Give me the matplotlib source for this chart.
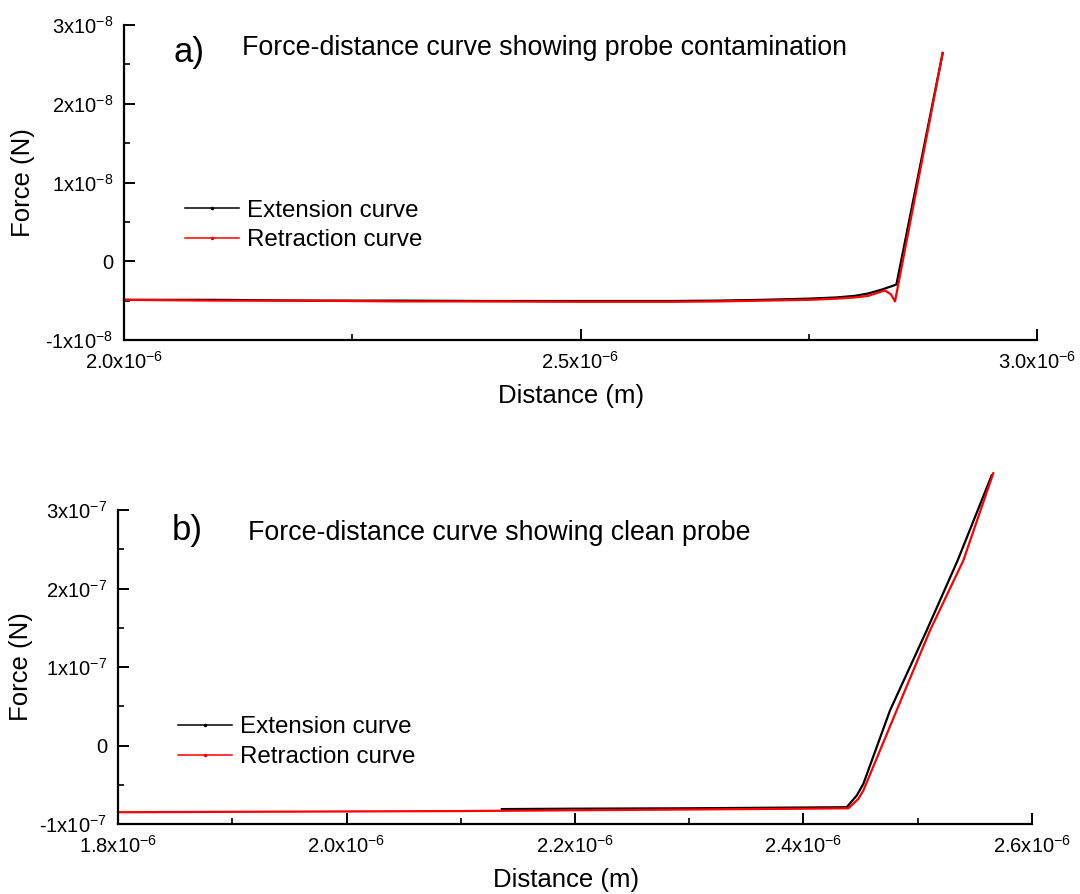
import numpy as np
import matplotlib
matplotlib.use('Agg')
import matplotlib.pyplot as plt
from matplotlib.ticker import MultipleLocator

plt.rcParams['font.family'] = ['Liberation Sans', 'DejaVu Sans']
plt.rcParams['mathtext.fontset'] = 'custom'
plt.rcParams['mathtext.rm'] = 'Liberation Sans'
plt.rcParams['mathtext.default'] = 'regular'

# ---- panel a) probe contamination (x in m, F in N) ----
a_ext_x = np.array([2.000, 2.100, 2.200, 2.300, 2.400, 2.500, 2.600, 2.650, 2.700, 2.750,
                    2.780, 2.800, 2.815, 2.830, 2.840, 2.846, 2.8967]) * 1e-6
a_ext_f = np.array([-0.49, -0.49, -0.50, -0.50, -0.505, -0.505, -0.505, -0.50, -0.49, -0.475,
                    -0.46, -0.44, -0.41, -0.36, -0.32, -0.296, 2.645]) * 1e-8
a_ret_x = np.array([2.000, 2.100, 2.200, 2.300, 2.400, 2.500, 2.600, 2.650, 2.700, 2.750,
                    2.780, 2.800, 2.815, 2.8335, 2.840, 2.8445, 2.8967]) * 1e-6
a_ret_f = np.array([-0.49, -0.50, -0.50, -0.51, -0.51, -0.515, -0.515, -0.51, -0.50, -0.49,
                    -0.475, -0.46, -0.44, -0.37, -0.42, -0.51, 2.645]) * 1e-8

# ---- panel b) clean probe ----
b_ext_x = np.array([2.136, 2.200, 2.300, 2.400, 2.4378, 2.4466, 2.4524, 2.4757, 2.5078,
                    2.5349, 2.5647]) * 1e-6
b_ext_f = np.array([-0.81, -0.805, -0.80, -0.79, -0.786, -0.637, -0.488, 0.446, 1.465,
                    2.357, 3.44]) * 1e-7
b_ret_x = np.array([1.80, 1.90, 2.00, 2.10, 2.20, 2.30, 2.40, 2.4393, 2.448, 2.4524,
                    2.4815, 2.5107, 2.5399, 2.5661]) * 1e-6
b_ret_f = np.array([-0.85, -0.845, -0.84, -0.835, -0.825, -0.815, -0.805, -0.80, -0.68,
                    -0.573, 0.446, 1.465, 2.357, 3.469]) * 1e-7

a_xticks = [2.0e-6, 2.5e-6, 3.0e-6]
a_xlabels = ['2.0x10$^{-6}$', '2.5x10$^{-6}$', '3.0x10$^{-6}$']
a_yticks = [-1e-8, 0, 1e-8, 2e-8, 3e-8]
a_ylabels = ['-1x10$^{-8}$', '0', '1x10$^{-8}$', '2x10$^{-8}$', '3x10$^{-8}$']

b_xticks = [1.8e-6, 2.0e-6, 2.2e-6, 2.4e-6, 2.6e-6]
b_xlabels = ['1.8x10$^{-6}$', '2.0x10$^{-6}$', '2.2x10$^{-6}$', '2.4x10$^{-6}$', '2.6x10$^{-6}$']
b_yticks = [-1e-7, 0, 1e-7, 2e-7, 3e-7]
b_ylabels = ['-1x10$^{-7}$', '0', '1x10$^{-7}$', '2x10$^{-7}$', '3x10$^{-7}$']

fig = plt.figure(figsize=(10.8, 8.94), dpi=100)
ax1 = fig.add_axes([124/1080, 1-340/894, 913/1080, 315/894])
ax2 = fig.add_axes([118/1080, 1-824/894, 914/1080, 314/894])


def style(ax, xticks, xlabels, yticks, ylabels, xminor, yminor):
    ax.set_xlim(xticks[0], xticks[-1])
    ax.set_ylim(yticks[0], yticks[-1])
    ax.set_xticks(xticks, xlabels)
    ax.set_yticks(yticks, ylabels)
    ax.xaxis.set_minor_locator(MultipleLocator(xminor))
    ax.yaxis.set_minor_locator(MultipleLocator(yminor))
    for s in ['top', 'right']:
        ax.spines[s].set_visible(False)
    for s in ['left', 'bottom']:
        ax.spines[s].set_linewidth(1.6)
    ax.tick_params(which='major', direction='in', length=8, width=1.4, labelsize=14.5, pad=8)
    ax.tick_params(which='minor', direction='in', length=4.5, width=1.2)
    ax.set_xlabel('Distance (m)', fontsize=18.5)
    ax.set_ylabel('Force (N)', fontsize=18.5)


def draw(ax, ex, ef, rx, rf):
    ax.plot(ex, ef, color='black', lw=1.6, label='Extension curve', clip_on=False)
    ax.plot(rx, rf, color='red', lw=1.6, label='Retraction curve', clip_on=False)


draw(ax1, a_ext_x, a_ext_f, a_ret_x, a_ret_f)
style(ax1, a_xticks, a_xlabels, a_yticks, a_ylabels, 0.25e-6, 0.5e-8)
ax1.xaxis.set_label_coords(0.49, -0.14)
ax1.yaxis.set_label_coords(-0.097, 0.5)
ax1.text(0.0537, 0.8825, 'a)', fontsize=25, transform=ax1.transAxes, va='baseline')
ax1.text(0.129, 0.905, 'Force-distance curve showing probe contamination', fontsize=19.3,
         transform=ax1.transAxes, va='baseline')

draw(ax2, b_ext_x, b_ext_f, b_ret_x, b_ret_f)
style(ax2, b_xticks, b_xlabels, b_yticks, b_ylabels, 0.1e-6, 0.5e-7)
ax2.xaxis.set_label_coords(0.49, -0.14)
ax2.yaxis.set_label_coords(-0.093, 0.5)
ax2.text(0.059, 0.904, 'b)', fontsize=25, transform=ax2.transAxes, va='baseline')
ax2.text(0.142, 0.904, 'Force-distance curve showing clean probe', fontsize=19.3,
         transform=ax2.transAxes, va='baseline')

for ax, anchor in [(ax1, (0.0668, 0.446)), (ax2, (0.0656, 0.343))]:
    leg = ax.legend(loc='upper left', bbox_to_anchor=anchor, frameon=False, fontsize=17.4,
                    borderpad=0, borderaxespad=0, handlelength=2.25, handletextpad=0.33,
                    labelspacing=0.32)
    for h in leg.legend_handles:
        h.set_linewidth(1.1)
        h.set_marker('.')
        h.set_markersize(3)

fig.savefig('out.png', dpi=100)
